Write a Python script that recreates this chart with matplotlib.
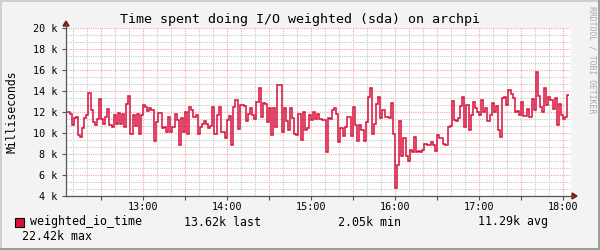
import numpy as np
import matplotlib
matplotlib.use("Agg")
import matplotlib.pyplot as plt
from matplotlib.patches import Rectangle, Polygon
from matplotlib.ticker import MultipleLocator, FuncFormatter

# ---- data (values in thousands of ms), 1.5-minute samples starting 12:06 ----
hour1 = [12.0, 11.8, 10.8, 11.4, 11.5, 9.8, 9.6, 10.5, 11.4, 11.7, 13.8, 12.2, 11.0, 10.8, 11.3,
         13.2, 11.3, 10.9, 11.5, 12.3, 10.8, 10.6, 11.7, 10.9, 11.9, 10.9, 11.8, 10.6, 12.8, 13.5,
         9.9, 11.7, 10.7, 11.8, 9.9, 11.7, 12.7, 12.5, 12.1, 12.35]
hour2 = [12.2, 9.25, 11.0, 11.9, 11.9, 10.45, 10.6, 10.1, 11.5, 10.1, 10.6, 11.8, 11.25, 8.85, 11.4,
         10.1, 12.0, 9.95, 12.5, 12.2, 11.55, 11.7, 9.95, 10.6, 10.9, 11.15, 10.85, 10.45, 10.7, 12.5,
         9.95, 11.7, 12.5, 10.1, 10.1, 9.5, 11.25, 11.6, 8.85, 12.5]
hour3 = [13.1, 10.4, 12.65, 12.65, 12.6, 11.1, 11.85, 12.4, 11.7, 11.35, 13.0, 14.25, 11.55, 12.9, 12.75,
         11.0, 12.4, 9.8, 12.35, 10.6, 14.6, 14.6, 10.1, 12.35, 11.1, 10.3, 12.35, 11.4, 9.95, 9.8,
         11.85, 9.35, 12.0, 10.3, 10.5, 11.7, 11.25, 12.0, 11.3, 11.8]
hour4 = [11.3, 11.24, 11.24, 8.2, 11.4, 11.3, 12.2, 12.4, 11.85, 9.1, 10.45, 9.7, 10.6, 11.55, 11.55,
         9.7, 12.5, 10.8, 9.25, 10.75, 10.3, 9.25, 11.0, 13.46, 14.25, 9.9, 10.9, 12.8, 13.45, 11.4,
         12.2, 11.55, 11.55, 11.45, 12.9, 9.95, 4.8, 6.95, 11.1, 7.85]
hour5 = [9.5, 7.85, 7.3, 8.4, 8.2, 9.65, 8.2, 8.3, 8.2, 8.4, 9.0, 8.85, 8.9, 9.1, 8.85,
         8.3, 9.8, 9.5, 9.5, 9.0, 8.85, 10.6, 10.65, 13.05, 11.24, 11.1, 11.4, 12.6, 13.46, 10.6,
         12.7, 10.3, 11.7, 12.98, 12.35, 12.0, 11.7, 13.1, 12.0, 12.4]
hour6 = [11.1, 11.7, 12.83, 12.0, 12.6, 10.3, 9.65, 13.3, 13.4, 12.7, 14.1, 13.7, 13.3, 12.0, 12.1,
         11.7, 13.0, 11.6, 11.65, 12.25, 11.55, 13.25, 12.2, 15.84, 13.55, 12.5, 12.0, 14.25, 12.67, 13.46,
         13.15, 12.25, 13.3, 10.8, 12.73, 11.7, 11.3, 11.55, 13.62]
start_min = 12 * 60 + 6     # 12:06
step_min = 1.5

y_ticks = [4000, 6000, 8000, 10000, 12000, 14000, 16000, 18000, 20000]
y_labels = ["4 k", "6 k", "8 k", "10 k", "12 k", "14 k", "16 k", "18 k", "20 k"]
hour_labels = {13: "13:00", 14: "14:00", 15: "15:00", 16: "16:00", 17: "17:00", 18: "18:00"}

title = "Time spent doing I/O weighted (sda) on archpi"
ylabel = "Milliseconds"
legend_name = "weighted_io_time"
legend_last = "13.62k last"
legend_min = "2.05k min"
legend_avg = "11.29k avg"
legend_max = "22.42k max"
watermark = "RRDTOOL / TOBI OETIKER"

values = np.array(hour1 + hour2 + hour3 + hour4 + hour5 + hour6) * 1000.0
edges = start_min + step_min * np.arange(len(values) + 1)

# ---- style ----
BACK = "#F3F3F3"
SHADEA = "#CFCFCF"
SHADEB = "#9E9E9E"
GRID = "#C8C8C8"
MGRID = "#F2A8A8"
AXIS = "#555555"
ARROW = "#7A1A1A"
LINE = "#D8103A"
MONO = "DejaVu Sans Mono"

W, H = 600, 250
fig = plt.figure(figsize=(6, 2.5), dpi=100, facecolor=BACK)
L, R, T, B = 66, 571, 28, 196
ax = fig.add_axes([L / W, 1 - B / H, (R - L) / W, (B - T) / H])
ax.set_facecolor("white")

ax.stairs(values, edges, baseline=None, color=LINE, lw=1.1, zorder=3)

ax.set_xlim(725, 1085.7)
ax.set_ylim(4000, 20000)

# grids
ax.xaxis.set_major_locator(MultipleLocator(30))
ax.xaxis.set_minor_locator(MultipleLocator(10))
ax.yaxis.set_major_locator(MultipleLocator(2000))
ax.yaxis.set_minor_locator(MultipleLocator(2000 / 3))
ax.grid(which="minor", color=GRID, lw=0.8, linestyle=(0, (1, 1)), zorder=1)
ax.grid(which="major", color=MGRID, lw=0.8, linestyle=(0, (1, 1)), zorder=1)

def xfmt(v, pos):
    m = int(round(v))
    if m % 60 == 0:
        return hour_labels.get(m // 60, "")
    return ""
ax.xaxis.set_major_formatter(FuncFormatter(xfmt))
ax.set_yticks(y_ticks)
ax.set_yticklabels(y_labels)

ax.tick_params(which="major", direction="out", length=3, width=0.8, color=AXIS,
               labelsize=7.3, pad=3)
ax.tick_params(axis="x", which="major", pad=1.5)
ax.tick_params(which="minor", length=0)
for lab in ax.get_xticklabels() + ax.get_yticklabels():
    lab.set_family(MONO)

for s in ["top", "right"]:
    ax.spines[s].set_visible(False)
for s in ["left", "bottom"]:
    ax.spines[s].set_color(AXIS)
    ax.spines[s].set_linewidth(0.9)
    ax.spines[s].set_zorder(4)

# axis extensions with arrow heads (pixel coordinates in figure)
def px(x, y):
    return (x / W, 1 - y / H)
fig.add_artist(plt.Line2D([L / W, L / W], [1 - T / H, 1 - 24 / H], color=AXIS, lw=0.9))
fig.add_artist(plt.Line2D([R / W, 573 / W], [1 - B / H, 1 - B / H], color=AXIS, lw=0.9))
fig.add_artist(Polygon([px(L - 3, 26), px(L + 3, 26), px(L, 21)], closed=True,
                       transform=fig.transFigure, color=ARROW))
fig.add_artist(Polygon([px(572, B - 3), px(572, B + 3), px(577, B)], closed=True,
                       transform=fig.transFigure, color=ARROW))

# frame
fig.add_artist(Rectangle((0, 0), 2 / W, 1, transform=fig.transFigure, color=SHADEA, lw=0))
fig.add_artist(Rectangle((0, 1 - 2 / H), 1, 2 / H, transform=fig.transFigure, color=SHADEA, lw=0))
fig.add_artist(Rectangle((1 - 2 / W, 0), 2 / W, 1, transform=fig.transFigure, color=SHADEB, lw=0))
fig.add_artist(Rectangle((0, 0), 1, 2 / H, transform=fig.transFigure, color=SHADEB, lw=0))

# texts
fig.text(300 / W, 1 - 19 / H, title, ha="center", va="center", family=MONO, fontsize=9.6)
fig.text(12 / W, 1 - 112 / H, ylabel, ha="center", va="center", rotation=90,
         family=MONO, fontsize=8.3)
fig.text(592 / W, 1 - 60 / H, watermark, ha="center", va="center", rotation=270,
         family=MONO, fontsize=5.9, color="#AAAAAA")

fig.add_artist(Rectangle(px(15, 227), 9 / W, 9 / H, transform=fig.transFigure,
                         facecolor=LINE, edgecolor="black", lw=0.8))
ly = 1 - 222 / H
fig.text(30 / W, ly, legend_name, ha="left", va="center", family=MONO, fontsize=8.4)
fig.text(184 / W, ly, legend_last, ha="left", va="center", family=MONO, fontsize=8.4)
fig.text(338 / W, ly, legend_min, ha="left", va="center", family=MONO, fontsize=8.4)
fig.text(478 / W, ly, legend_avg, ha="left", va="center", family=MONO, fontsize=8.4)
fig.text(22 / W, 1 - 236 / H, legend_max, ha="left", va="center", family=MONO, fontsize=8.4)

fig.savefig("out.png", dpi=100, facecolor=BACK)
